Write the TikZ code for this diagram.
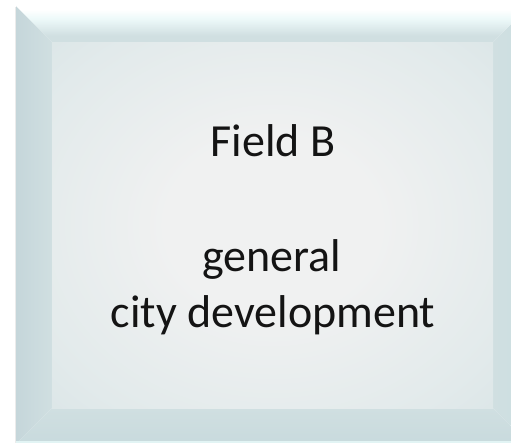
\documentclass[tikz,border=0pt]{standalone}
\usepackage{fontspec}
\setmainfont{Carlito}
\usetikzlibrary{shadings}

\definecolor{faceCenter}{HTML}{F0F1F1}
\definecolor{faceMid}{HTML}{E2EAEB}
\definecolor{faceEdge}{HTML}{D0DFE1}
\definecolor{bevelTopMid}{HTML}{EEFAFA}
\definecolor{bevelLeftOut}{HTML}{C5D6DA}
\definecolor{bevelRightOut}{HTML}{CCDEE2}
\definecolor{bevelBotOut}{HTML}{C8DADD}
\definecolor{rimLight}{HTML}{E2F4F4}

% vertical shading of the top bevel: white highlight fading into the face tone
\pgfdeclareverticalshading{topbevel}{100bp}{%
  color(0bp)=(faceEdge);
  color(34bp)=(faceEdge);
  color(58bp)=(bevelTopMid);
  color(70bp)=(white);
  color(100bp)=(white)}

\pgfdeclareradialshading{facelight}{\pgfpoint{0bp}{0bp}}{%
  color(0bp)=(faceCenter);
  color(12bp)=(faceCenter);
  color(30bp)=(faceMid);
  color(48bp)=(faceEdge);
  color(70bp)=(faceEdge)}

\tikzset{
  label text/.style={font=\fontsize{46}{55}\selectfont, text=black!92, inner sep=0pt, anchor=base},
}

\begin{document}
\begin{tikzpicture}[x=1pt,y=-1pt]
  \useasboundingbox (0,0) rectangle (511,443);
  \fill[white] (0,0) rectangle (511,443);
  \begin{scope}
    \clip (0,0) rectangle (511,443);
    % soft shadow along the left edge
    \fill[black!8] (14.5,7) rectangle (16,443);
    % bevel: left
    \shade[left color=bevelLeftOut, right color=faceEdge]
      (16,6) -- (52,42) -- (52,408) -- (16,444) -- cycle;
    % bevel: right
    \shade[left color=faceEdge, right color=bevelRightOut]
      (529,6) -- (493,42) -- (493,408) -- (529,444) -- cycle;
    % bevel: bottom
    \shade[top color=faceEdge, bottom color=bevelBotOut]
      (16,444) -- (52,408) -- (493,408) -- (529,444) -- cycle;
    % face
    \shade[shading=facelight] (52,42) rectangle (493,408);
    % bevel: top
    \shade[shading=topbevel]
      (16,6) -- (529,6) -- (493,42) -- (52,42) -- cycle;
    % light rim at the bottom edge
    \fill[rimLight] (16,441) rectangle (529,444);
  \end{scope}

  \node[label text] (title) at (273,157) {Field B};
  \node[label text] (line1) at (272,272) {general};
  \node[label text] (line2) at (273,328) {city development};
\end{tikzpicture}
\end{document}
